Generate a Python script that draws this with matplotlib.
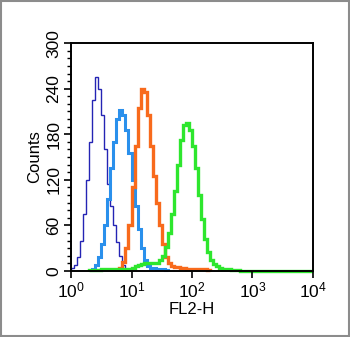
import numpy as np
import matplotlib.pyplot as plt
from matplotlib.patches import Rectangle
from matplotlib.ticker import MultipleLocator, LogLocator, NullFormatter

plt.rcParams['font.family'] = ['Liberation Sans', 'DejaVu Sans']
plt.rcParams['mathtext.default'] = 'regular'

# histogram bins are 0.05 decade wide, each series starts at its own log10 value
bin_w = 0.05

# dark blue (isotype / unstained)
navy_start = 0.0
navy_counts = [4, 8, 18, 40, 75, 120, 170, 225, 255, 240, 205, 160, 115, 85,
               60, 38, 20, 8, 3]

# light blue
blue_start = 0.35
blue_counts = [2, 8, 18, 35, 60, 95, 135, 170, 200, 212, 205, 185, 155, 120,
               85, 55, 30, 14, 6, 4, 4, 3, 3, 2, 1]

# orange
orange_start = 0.8
orange_counts = [4, 12, 30, 60, 110, 165, 215, 240, 235, 205, 165, 125, 90,
                 60, 35, 18, 10, 7, 5, 5, 4, 4, 3, 3, 3, 3, 3, 2, 2, 1]

# green
green_start = 0.3
green_counts = [1, 1, 1, 1, 2, 2, 2, 2, 2, 2, 2, 2, 2, 2,
                4, 6, 8, 9, 10, 10, 10, 10, 11, 14, 20, 32, 50, 75, 105, 140,
                172, 192, 195, 185, 165, 135, 100, 68, 42, 25, 15, 9, 6, 4,
                3, 2, 2, 1, 1, 1] + [0] * 24

series = [
    (navy_start, navy_counts, '#2424b4', 1.0),
    (blue_start, blue_counts, '#2a90ec', 2.2),
    (orange_start, orange_counts, '#f86a1c', 2.4),
    (green_start, green_counts, '#2ee62e', 2.4),
]

fig = plt.figure(figsize=(3.5, 3.37), dpi=100)
ax = fig.add_axes([0.203, 0.196, 0.691, 0.676])

for start, counts, color, lw in series:
    edges = 10 ** (start + bin_w * np.arange(len(counts) + 1))
    ax.stairs(counts, edges, color=color, linewidth=lw, clip_on=False)

ax.set_xscale('log')
ax.set_xlim(1, 1e4)
ax.set_ylim(0, 300)
ax.set_xticks([1, 10, 100, 1000, 10000])
ax.xaxis.set_minor_locator(LogLocator(base=10, subs=np.arange(2, 10)))
ax.xaxis.set_minor_formatter(NullFormatter())
ax.yaxis.set_major_locator(MultipleLocator(60))
ax.yaxis.set_minor_locator(MultipleLocator(10))

ax.tick_params(which='major', length=5, width=1.2, labelsize=12.5, pad=2)
ax.tick_params(which='minor', length=3, width=1.0)
plt.setp(ax.get_yticklabels(), rotation=90, va='center')

for sp in ax.spines.values():
    sp.set_linewidth(1.4)

ax.set_xlabel('FL2-H', fontsize=12, labelpad=1)
ax.set_ylabel('Counts', fontsize=12, labelpad=3)

fig.patches.append(Rectangle((0.004, 0.004), 0.992, 0.992, transform=fig.transFigure,
                             fill=False, edgecolor='#8c8c8c', linewidth=1.5))

fig.savefig('out.png', dpi=100)
